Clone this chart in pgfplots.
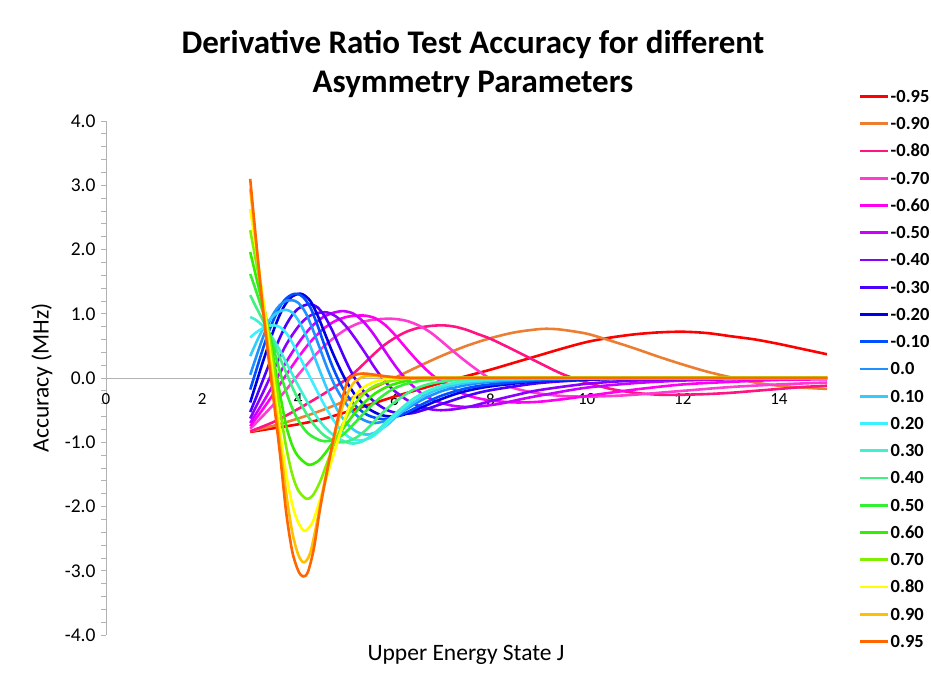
\documentclass[border=0pt]{standalone}
\usepackage{pgfplots}
\pgfplotsset{compat=1.18}
\usepackage{fontspec}
\setmainfont{Carlito}
\definecolor{cA}{HTML}{FF0000}
\definecolor{cB}{HTML}{ED7D31}
\definecolor{cC}{HTML}{FF1482}
\definecolor{cD}{HTML}{FF3CD2}
\definecolor{cE}{HTML}{FF00F0}
\definecolor{cF}{HTML}{CC00FF}
\definecolor{cG}{HTML}{8A00FF}
\definecolor{cH}{HTML}{4B00FF}
\definecolor{cI}{HTML}{0000E6}
\definecolor{cJ}{HTML}{0050FF}
\definecolor{cK}{HTML}{1E90FF}
\definecolor{cL}{HTML}{33CCFF}
\definecolor{cM}{HTML}{3CF0FF}
\definecolor{cN}{HTML}{40F0D0}
\definecolor{cO}{HTML}{40F080}
\definecolor{cP}{HTML}{33F033}
\definecolor{cQ}{HTML}{33EE00}
\definecolor{cR}{HTML}{80F000}
\definecolor{cS}{HTML}{FFFF00}
\definecolor{cT}{HTML}{FFC000}
\definecolor{cU}{HTML}{FF6600}
\pgfplotsset{curve/.style={line width=2.6pt, smooth, tension=0.5, mark=none, line join=round}}
\begin{document}
\begin{tikzpicture}
\useasboundingbox (-106pt,-46pt) rectangle (825pt,635pt);
\begin{axis}[
 at={(0pt,0pt)}, anchor=south west,
 width=721pt, height=514pt, scale only axis,
 xmin=0, xmax=15, ymin=-4, ymax=4,
 axis x line=middle, axis y line=left,
 axis line style={-, draw=black!30, line width=0.8pt},
 xtick={0,2,...,14}, ytick={-4,-3,...,4},
 minor y tick num=4,
 tick align=outside,
 major tick length=5pt, minor tick length=5pt,
 every tick/.style={black!30, line width=0.8pt},
 xtick style={draw=none},
 hide obscured x ticks=false,
 xticklabel style={font=\fontsize{17}{19}\selectfont, yshift=-7pt},
 yticklabel style={font=\fontsize{19.5}{22}\selectfont, xshift=-2pt, /pgf/number format/.cd, fixed, fixed zerofill, precision=1},
 /pgf/number format/assume math mode=true,
 legend style={at={(1.0443,1.0593)}, anchor=north west, draw=none, fill=none, inner sep=0pt, outer sep=0pt, row sep=15.5pt, column sep=1pt, font=\fontsize{18.5}{18.5}\selectfont\bfseries, nodes={inner sep=0pt, text height=11.75pt, text depth=0pt}},
 legend cell align=left,
 legend image code/.code={\path[draw=none,fill=none] (0pt,-4pt) rectangle (28pt,4pt); \draw[#1, line width=2.8pt, line cap=butt] (0pt,0pt) -- (28pt,0pt);},
]
\addplot[curve, cA] coordinates {(3,-0.84)(3.5,-0.78)(4,-0.72)(4.5,-0.64)(5,-0.53)(5.5,-0.41)(6,-0.29)(6.5,-0.18)(7,-0.07)(7.5,0.03)(8,0.13)(8.5,0.24)(9,0.35)(9.5,0.46)(10,0.56)(10.5,0.63)(11,0.68)(11.5,0.71)(12,0.72)(12.5,0.7)(13,0.65)(13.5,0.6)(14,0.53)(14.5,0.45)(15,0.37)};
\addlegendentry{-0.95}
\addplot[curve, cB] coordinates {(3,-0.83)(3.5,-0.74)(4,-0.63)(4.5,-0.5)(5,-0.35)(5.5,-0.18)(6,0)(6.5,0.18)(7,0.35)(7.5,0.5)(8,0.62)(8.5,0.71)(9,0.76)(9.25,0.765)(9.5,0.75)(10,0.69)(10.5,0.58)(11,0.46)(11.5,0.33)(12,0.21)(12.5,0.1)(13,0.01)(13.5,-0.07)(14,-0.12)(14.5,-0.15)(15,-0.17)};
\addlegendentry{-0.90}
\addplot[curve, cC] coordinates {(3,-0.83)(3.5,-0.68)(4,-0.48)(4.5,-0.26)(5,-0.02)(5.25,0.14)(5.5,0.32)(5.75,0.49)(6,0.62)(6.25,0.72)(6.5,0.78)(6.75,0.81)(7,0.82)(7.25,0.8)(7.5,0.75)(7.75,0.68)(8,0.61)(8.5,0.43)(9,0.24)(9.5,0.06)(10,-0.07)(10.5,-0.17)(11,-0.23)(11.5,-0.26)(12,-0.26)(12.5,-0.25)(13,-0.23)(13.5,-0.2)(14,-0.17)(14.5,-0.14)(15,-0.12)};
\addlegendentry{-0.80}
\addplot[curve, cD] coordinates {(3,-0.79)(3.25,-0.6)(3.5,-0.4)(3.75,-0.18)(4,0.05)(4.25,0.27)(4.5,0.47)(4.75,0.63)(5,0.76)(5.25,0.85)(5.5,0.9)(5.75,0.92)(6,0.92)(6.25,0.89)(6.5,0.82)(6.75,0.71)(7,0.56)(7.25,0.4)(7.5,0.25)(7.75,0.11)(8,-0.01)(8.5,-0.16)(9,-0.24)(9.5,-0.28)(10,-0.29)(10.5,-0.28)(11,-0.26)(12,-0.2)(13,-0.14)(14,-0.1)(15,-0.07)};
\addlegendentry{-0.70}
\addplot[curve, cE] coordinates {(3,-0.75)(3.25,-0.5)(3.5,-0.23)(3.75,0.05)(4,0.32)(4.25,0.56)(4.5,0.75)(4.75,0.88)(5,0.95)(5.2,0.97)(5.4,0.97)(5.6,0.93)(5.8,0.83)(6,0.68)(6.25,0.46)(6.5,0.25)(6.75,0.07)(7,-0.07)(7.3,-0.2)(7.6,-0.29)(8,-0.35)(8.5,-0.38)(9,-0.37)(9.5,-0.33)(10,-0.28)(11,-0.18)(12,-0.1)(13,-0.06)(14,-0.03)(15,-0.02)};
\addlegendentry{-0.60}
\addplot[curve, cF] coordinates {(3,-0.7)(3.25,-0.4)(3.5,-0.08)(3.75,0.25)(4,0.54)(4.25,0.78)(4.5,0.94)(4.75,1.02)(4.95,1.04)(5.15,1.0)(5.35,0.88)(5.55,0.7)(5.75,0.48)(5.95,0.26)(6.15,0.06)(6.35,-0.1)(6.6,-0.26)(6.9,-0.37)(7.2,-0.43)(7.5,-0.45)(7.8,-0.44)(8.2,-0.4)(8.7,-0.32)(9.2,-0.25)(10,-0.15)(11,-0.08)(12,-0.04)(13,-0.02)(14,-0.01)(15,0)};
\addlegendentry{-0.50}
\addplot[curve, cG] coordinates {(3,-0.63)(3.25,-0.25)(3.5,0.15)(3.75,0.52)(4,0.8)(4.2,0.95)(4.4,1.01)(4.6,1.02)(4.8,0.95)(5,0.8)(5.2,0.6)(5.4,0.38)(5.6,0.15)(5.8,-0.05)(6,-0.2)(6.3,-0.36)(6.6,-0.46)(6.9,-0.5)(7.2,-0.49)(7.6,-0.44)(8,-0.36)(8.5,-0.27)(9,-0.19)(10,-0.09)(11,-0.04)(12,-0.02)(13,-0.01)(15,0)};
\addlegendentry{-0.40}
\addplot[curve, cH] coordinates {(3,-0.53)(3.125,-0.3)(3.25,-0.06)(3.375,0.18)(3.5,0.42)(3.625,0.64)(3.75,0.83)(3.875,0.98)(4,1.08)(4.125,1.13)(4.25,1.15)(4.4,1.1)(4.55,0.96)(4.7,0.75)(4.85,0.5)(5,0.25)(5.15,0.03)(5.35,-0.2)(5.6,-0.38)(5.85,-0.5)(6.1,-0.55)(6.35,-0.55)(6.6,-0.5)(7,-0.4)(7.5,-0.28)(8,-0.19)(9,-0.08)(10,-0.03)(11,-0.01)(12,0)(15,0)};
\addlegendentry{-0.30}
\addplot[curve, cI] coordinates {(3,-0.38)(3.125,-0.08)(3.25,0.22)(3.375,0.5)(3.5,0.77)(3.625,1.0)(3.75,1.17)(3.875,1.27)(4,1.31)(4.1,1.3)(4.25,1.2)(4.4,0.98)(4.55,0.7)(4.7,0.42)(4.85,0.17)(5,-0.05)(5.2,-0.28)(5.45,-0.47)(5.7,-0.57)(5.95,-0.6)(6.2,-0.57)(6.5,-0.48)(6.9,-0.35)(7.4,-0.22)(8,-0.13)(9,-0.05)(10,-0.02)(11,-0.01)(12,0)(15,0)};
\addlegendentry{-0.20}
\addplot[curve, cJ] coordinates {(3,-0.18)(3.125,0.12)(3.25,0.42)(3.375,0.7)(3.5,0.93)(3.625,1.12)(3.75,1.24)(3.875,1.3)(3.98,1.31)(4.1,1.26)(4.25,1.1)(4.4,0.82)(4.55,0.5)(4.7,0.2)(4.85,-0.05)(5,-0.25)(5.2,-0.44)(5.45,-0.58)(5.75,-0.64)(6,-0.61)(6.3,-0.52)(6.6,-0.4)(7,-0.27)(7.5,-0.16)(8,-0.1)(9,-0.04)(10,-0.01)(11,0)(15,0)};
\addlegendentry{-0.10}
\addplot[curve, cK] coordinates {(3,0.05)(3.125,0.33)(3.25,0.6)(3.375,0.84)(3.5,1.02)(3.625,1.14)(3.75,1.2)(3.875,1.21)(4,1.17)(4.15,1.02)(4.3,0.76)(4.45,0.46)(4.6,0.16)(4.75,-0.1)(4.9,-0.3)(5.1,-0.5)(5.3,-0.63)(5.55,-0.7)(5.8,-0.67)(6.05,-0.58)(6.3,-0.46)(6.6,-0.33)(7,-0.2)(7.5,-0.11)(8,-0.06)(9,-0.02)(10,-0.01)(11,0)(15,0)};
\addlegendentry{0.0}
\addplot[curve, cL] coordinates {(3,0.34)(3.125,0.55)(3.25,0.74)(3.375,0.88)(3.5,0.98)(3.625,1.04)(3.75,1.06)(3.875,1.02)(4,0.9)(4.15,0.68)(4.3,0.4)(4.45,0.11)(4.6,-0.17)(4.8,-0.48)(5,-0.7)(5.2,-0.83)(5.4,-0.88)(5.6,-0.85)(5.85,-0.73)(6.1,-0.56)(6.4,-0.38)(6.8,-0.21)(7.3,-0.1)(8,-0.04)(9,-0.01)(10,0)(15,0)};
\addlegendentry{0.10}
\addplot[curve, cM] coordinates {(3,0.63)(3.125,0.71)(3.25,0.77)(3.375,0.81)(3.5,0.82)(3.625,0.79)(3.75,0.7)(3.875,0.55)(4,0.37)(4.15,0.15)(4.3,-0.07)(4.5,-0.36)(4.7,-0.62)(4.9,-0.82)(5.1,-0.94)(5.3,-0.97)(5.5,-0.93)(5.7,-0.82)(5.95,-0.63)(6.2,-0.45)(6.5,-0.28)(6.9,-0.14)(7.4,-0.06)(8,-0.02)(9,0)(15,0)};
\addlegendentry{0.20}
\addplot[curve, cN] coordinates {(3,0.95)(3.125,0.9)(3.25,0.82)(3.375,0.72)(3.5,0.58)(3.625,0.42)(3.75,0.24)(3.875,0.06)(4,-0.12)(4.25,-0.45)(4.5,-0.72)(4.75,-0.9)(5,-1)(5.15,-1.02)(5.35,-0.98)(5.6,-0.85)(5.85,-0.67)(6.1,-0.5)(6.4,-0.32)(6.8,-0.17)(7.3,-0.07)(8,-0.02)(9,0)(15,0)};
\addlegendentry{0.30}
\addplot[curve, cO] coordinates {(3,1.29)(3.125,1.1)(3.25,0.92)(3.375,0.73)(3.5,0.52)(3.625,0.3)(3.75,0.08)(3.875,-0.14)(4,-0.33)(4.25,-0.65)(4.5,-0.87)(4.75,-0.98)(4.95,-1.0)(5.2,-0.93)(5.45,-0.78)(5.7,-0.58)(6,-0.38)(6.4,-0.18)(6.8,-0.08)(7.4,-0.02)(8,0)(15,0)};
\addlegendentry{0.40}
\addplot[curve, cP] coordinates {(3,1.62)(3.125,1.35)(3.25,1.06)(3.375,0.75)(3.5,0.42)(3.625,0.08)(3.75,-0.22)(3.875,-0.47)(4,-0.66)(4.2,-0.86)(4.45,-0.97)(4.65,-0.98)(4.9,-0.9)(5.15,-0.72)(5.4,-0.52)(5.65,-0.34)(5.95,-0.18)(6.3,-0.08)(6.8,-0.02)(7.5,0)(15,0)};
\addlegendentry{0.50}
\addplot[curve, cQ] coordinates {(3,1.96)(3.125,1.57)(3.25,1.17)(3.375,0.75)(3.5,0.24)(3.625,-0.27)(3.75,-0.75)(3.875,-1.05)(4,-1.22)(4.21,-1.35)(4.4,-1.3)(4.55,-1.18)(4.75,-0.97)(4.95,-0.77)(5.15,-0.57)(5.35,-0.4)(5.6,-0.24)(5.9,-0.12)(6.3,-0.04)(7,0)(15,0)};
\addlegendentry{0.60}
\addplot[curve, cR] coordinates {(3,2.3)(3.125,1.8)(3.25,1.28)(3.375,0.75)(3.5,0.12)(3.625,-0.52)(3.75,-1.08)(3.875,-1.5)(4,-1.75)(4.17,-1.88)(4.3,-1.83)(4.45,-1.62)(4.6,-1.32)(4.75,-1.02)(4.9,-0.76)(5.05,-0.55)(5.2,-0.38)(5.4,-0.22)(5.6,-0.12)(5.9,-0.05)(6.3,-0.01)(7,0)(15,0)};
\addlegendentry{0.70}
\addplot[curve, cS] coordinates {(3,2.63)(3.125,2.0)(3.25,1.33)(3.375,0.62)(3.5,-0.1)(3.625,-0.85)(3.75,-1.5)(3.875,-1.97)(4,-2.25)(4.14,-2.38)(4.3,-2.24)(4.45,-1.9)(4.6,-1.52)(4.75,-1.15)(4.9,-0.8)(5.05,-0.47)(5.2,-0.26)(5.35,-0.15)(5.55,-0.07)(5.8,-0.02)(6.2,0)(7,0)(15,0)};
\addlegendentry{0.80}
\addplot[curve, cT] coordinates {(3,2.95)(3.125,2.07)(3.25,1.22)(3.375,0.45)(3.5,-0.3)(3.625,-1.05)(3.75,-1.8)(3.875,-2.4)(4,-2.75)(4.12,-2.87)(4.25,-2.72)(4.4,-2.2)(4.55,-1.6)(4.7,-1.1)(4.85,-0.62)(5,-0.28)(5.15,-0.08)(5.35,0.02)(5.6,0.03)(6,0.01)(6.5,0)(7,0)(15,0)};
\addlegendentry{0.90}
\addplot[curve, cU] coordinates {(3,3.10)(3.125,2.12)(3.25,1.17)(3.375,0.35)(3.5,-0.42)(3.625,-1.22)(3.75,-2.1)(3.875,-2.7)(4,-3.0)(4.1,-3.09)(4.2,-3.02)(4.325,-2.65)(4.45,-2.05)(4.6,-1.45)(4.75,-0.88)(4.9,-0.38)(5.02,-0.06)(5.15,0.04)(5.35,0.07)(5.6,0.05)(5.9,0.02)(6.3,0)(7,0)(15,0)};
\addlegendentry{0.95}
\end{axis}
\node[font=\fontsize{33}{36}\selectfont\bfseries, anchor=base] at (367pt,581.5pt) {Derivative Ratio Test Accuracy for different};
\node[font=\fontsize{33}{36}\selectfont\bfseries, anchor=base] at (367pt,542.5pt) {Asymmetry Parameters};
\node[font=\fontsize{23.5}{27}\selectfont, rotate=90] at (-64pt,257pt) {Accuracy (MHz)};
\node[font=\fontsize{23.5}{27}\selectfont] at (360pt,-20pt) {Upper Energy State J};
\end{tikzpicture}
\end{document}
